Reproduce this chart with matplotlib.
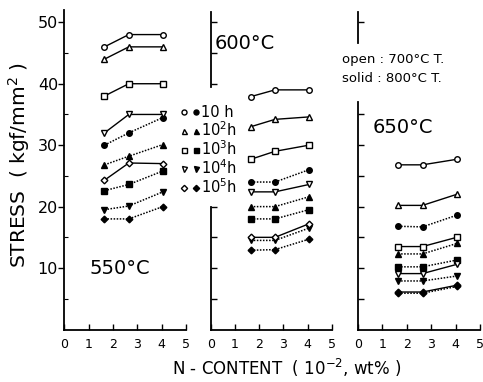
import matplotlib.pyplot as plt
from matplotlib.lines import Line2D
from matplotlib.legend_handler import HandlerTuple

# N content (10^-2 wt%) of the three steels
n_content = [1.65, 2.65, 4.05]
hours = ['10 h', '10$^2$h', '10$^3$h', '10$^4$h', '10$^5$h']
markers = ['o', '^', 's', 'v', 'D']

# stress (kgf/mm2), rows are 10h .. 10^5h
# open = 700C tempered, solid = 800C tempered
s550_open = [[46, 48, 48], [44, 46, 46], [38, 40, 40], [32, 35, 35], [24.3, 27.1, 27]]
s550_solid = [[30, 32, 34.5], [26.8, 28.2, 30.1], [22.6, 23.6, 25.8], [19.5, 20.1, 22.4], [18, 18, 20]]
s600_open = [[37.9, 39, 39], [33, 34.2, 34.6], [27.7, 29, 30], [22.4, 22.4, 23.6], [15, 15, 17.2]]
s600_solid = [[24, 24, 26], [20, 20, 21.6], [18, 18, 19.5], [14.5, 14.5, 16.5], [12.9, 13, 14.7]]
s650_open = [[26.8, 26.8, 27.7], [20.2, 20.2, 22], [13.5, 13.5, 15], [9.1, 9.1, 10.6], [6.1, 6.1, 7.2]]
s650_solid = [[16.8, 16.7, 18.6], [12.3, 12.3, 14], [10.2, 10.2, 11.3], [7.9, 7.9, 8.7], [5.9, 5.9, 7.0]]

W, H = 483, 382
fig = plt.figure(figsize=(W / 100, H / 100), dpi=100)


def rect(x0, x5):
    return [x0 / W, (H - 329.5) / H, (x5 - x0) / W, (329.5 - 10) / H]


def draw(ax, opens, solids):
    for m, yo, ys in zip(markers, opens, solids):
        ms = 4.0 if m != 'D' else 3.4
        ax.plot(n_content, yo, color='k', lw=1.0, marker=m, ms=ms,
                mfc='white', mec='k', mew=1.0)
        ax.plot(n_content, ys, color='k', lw=1.1, ls=(0, (1, 1)), marker=m,
                ms=ms, mfc='k', mec='k')


axes = []
for x0, x5 in [(64.3, 186), (210.7, 332), (357.7, 480)]:
    ax = fig.add_axes(rect(x0, x5))
    ax.set_xlim(0, 5)
    ax.set_ylim(0, 52)
    ax.spines['top'].set_visible(False)
    ax.spines['right'].set_visible(False)
    ax.spines['bottom'].set_linewidth(1.3)
    ax.spines['left'].set_linewidth(1.3)
    ax.set_xticks(range(6))
    ax.tick_params(axis='x', direction='in', length=4, width=1.0, labelsize=9, pad=6)
    ax.patch.set_visible(False)
    axes.append(ax)

ax1, ax2, ax3 = axes

# panel 1: full y axis with labels
ax1.set_yticks([10, 20, 30, 40, 50])
ax1.set_yticks([5, 15, 25, 35, 45], minor=True)
ax1.tick_params(axis='y', which='major', direction='out', length=4, width=1.0, labelsize=11.5, pad=0.5)
ax1.tick_params(axis='y', which='minor', direction='in', length=3, width=0.8)

# panels 2 and 3: broken y axis, no labels
ax2.spines['left'].set_visible(False)
ax3.spines['left'].set_visible(False)
ax2.plot([0, 0], [39.4, 51.6], color='k', lw=1.3, clip_on=False)
ax2.plot([0, 0], [0, 19.9], color='k', lw=1.3, clip_on=False)
ax3.plot([0, 0], [46.7, 51.6], color='k', lw=1.3, clip_on=False)
ax3.plot([0, 0], [0, 37.0], color='k', lw=1.3, clip_on=False)
ax2.set_yticks([5, 10, 15, 20, 40, 45, 50])
ax3.set_yticks([5, 10, 15, 20, 25, 30, 35, 50])
for ax in (ax2, ax3):
    ax.tick_params(axis='y', direction='in', length=4, width=1.0, labelleft=False)

draw(ax1, s550_open, s550_solid)
draw(ax2, s600_open, s600_solid)
draw(ax3, s650_open, s650_solid)

ax1.text(2.28, 10, '550°C', ha='center', va='center', fontsize=14)
ax2.text(1.41, 46.6, '600°C', ha='center', va='center', fontsize=14)
ax3.text(1.85, 32.8, '650°C', ha='center', va='center', fontsize=14)

# legend: open and solid marker side by side
handles = []
for m in markers:
    ms = 3.6 if m != 'D' else 3.2
    h_open = Line2D([], [], ls='none', marker=m, ms=ms, mfc='white', mec='k')
    h_solid = Line2D([], [], ls='none', marker=m, ms=ms, mfc='k', mec='k')
    handles.append((h_open, h_solid))
fig.legend(handles, hours, handler_map={tuple: HandlerTuple(ndivide=None, pad=0.5)},
           loc='upper left', bbox_to_anchor=(175 / W, 1 - 98 / H), frameon=False,
           fontsize=10.5, handlelength=1.1, handletextpad=0.15, labelspacing=0.02,
           borderpad=0)

fig.text(342 / W, 1 - 60 / H, 'open : 700°C T.', fontsize=9.5, va='center')
fig.text(342 / W, 1 - 79 / H, 'solid : 800°C T.', fontsize=9.5, va='center')

fig.text(19 / W, 1 - 165 / H, 'STRESS  ( kgf/mm$^2$ )', rotation=90,
         ha='center', va='center', fontsize=14.5)
fig.text(287 / W, 1 - 368 / H, 'N - CONTENT  ( 10$^{-2}$, wt% )',
         ha='center', va='center', fontsize=12)

fig.savefig('out.png', dpi=100)
